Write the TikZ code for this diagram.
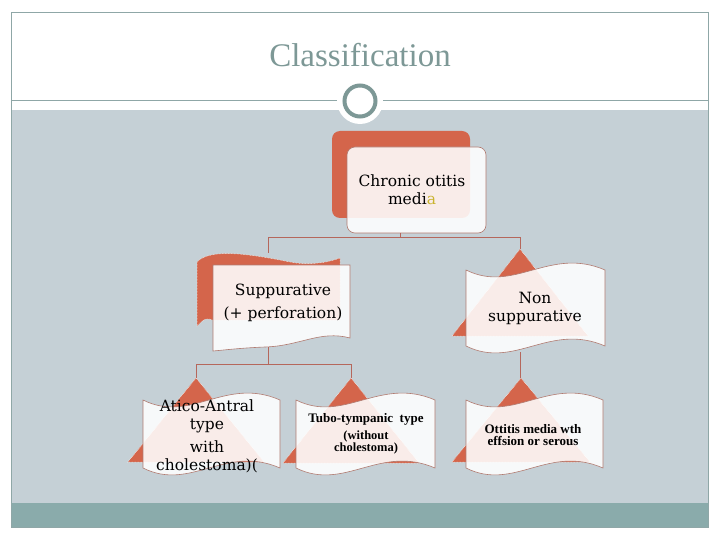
\documentclass[tikz,border=0pt]{standalone}
\usepackage{fontspec}
\setmainfont{Liberation Serif}
\newfontfamily\dvs{DejaVu Serif}
\definecolor{bgblue}{HTML}{C5D0D6}
\definecolor{band}{HTML}{8AABAB}
\definecolor{framec}{HTML}{8FA7A7}
\definecolor{titlec}{HTML}{7D9896}
\definecolor{orng}{HTML}{D4654B}
\definecolor{edgec}{HTML}{B07A70}
\definecolor{connc}{HTML}{B5675C}
\definecolor{yel}{HTML}{C9B32E}
\newcommand\flagshape[4]{(#1,{#2+6}) .. controls ({#1+0.35*#3},{#2+30}) and ({#1+0.6*#3},{#2-18}) .. ({#1+#3},{#2+6}) -- ({#1+#3},{#2+#4-6}) .. controls ({#1+0.6*#3},{#2+#4-30}) and ({#1+0.35*#3},{#2+#4+18}) .. (#1,{#2+#4-6}) -- cycle}
\begin{document}
\begin{tikzpicture}[x=1pt,y=-1pt,
  frontbox/.style={fill=white,fill opacity=0.88,draw=edgec,draw opacity=1,line width=0.6pt},
  backshape/.style={fill=orng,draw=white,line width=0.5pt,densely dotted},
  conn/.style={draw=connc,line width=0.8pt},
  bigtxt/.style={font=\dvs\fontsize{15.5}{18}\selectfont,align=center,text=black},
  smalltxt/.style={font=\bfseries\fontsize{13}{12.5}\selectfont,align=center,text=black}]
\useasboundingbox (0,0) rectangle (720,540);
\fill[white] (0,0) rectangle (720,540);
\fill[bgblue] (12,110) rectangle (708,503);
\fill[band] (12,503) rectangle (708,527);
\draw[framec,line width=0.8pt] (11.5,12.5) rectangle (708,527);
\draw[framec,line width=1pt] (11,101) -- (708,101);
\fill[white] (360,101) circle (23pt);
\draw[titlec,line width=4pt] (360,101) circle (15.5pt);
\node[font=\fontsize{33}{36}\selectfont,text=titlec] (title) at (360,55) {Classification};

% Chronic otitis media
\fill[orng,rounded corners=8pt] (332,131) rectangle (470,218);
\draw[frontbox,rounded corners=8pt] (347,147) rectangle (486,233);
\node[bigtxt] (com) at (412,190) {Chronic otitis\\medi\textcolor{yel}{a}};

% Suppurative
\path[backshape] (197,262) .. controls (210,248) and (250,254) .. (290,262) .. controls (310,266) and (330,262) .. (340,258) -- (340,320) -- (213,320) .. controls (205,318) .. (197,326) -- cycle;
\path[frontbox] (213,265) -- (350,265) -- (350,338) .. controls (320,330) and (300,346) .. (265,347) .. controls (240,348) and (225,350) .. (213,351) -- cycle;
\node[bigtxt,text depth=0pt] (sup) at (283,301) {Suppurative\\[5pt](+ perforation)};

% Non suppurative
\path[backshape] (520,249) -- (452,336) -- (588,336) -- cycle;
\path[frontbox] \flagshape{466}{264}{139}{88};
\node[bigtxt] (nsup) at (535,308) {Non\\suppurative};

% Atico-Antral
\path[backshape] (196,378) -- (128,462) -- (264,462) -- cycle;
\path[frontbox] \flagshape{143}{394}{137}{80};
\node[bigtxt] (ati) at (207,436) {Atico-Antral\\type\\[5pt]with\\cholestoma)(};

% Tubo-tympanic
\path[backshape] (351,378) -- (283,463) -- (419,463) -- cycle;
\path[frontbox] \flagshape{296}{394}{139}{80};
\node[smalltxt] (tub) at (366,434) {Tubo-tympanic\ \ type\\[4pt]\fontsize{12.5}{11}\selectfont(without\\\fontsize{12.5}{11}\selectfont cholestoma)};

% Ottitis media with effusion
\path[backshape] (521,378) -- (452,462) -- (590,462) -- cycle;
\path[frontbox] \flagshape{466}{394}{137}{80};
\node[smalltxt] (ott) at (533,435) {Ottitis media wth\\effsion or serous};

% connectors
\coordinate (cmb) at (400,233);
\coordinate (jt) at (400,237);
\coordinate (supt) at (268,253);
\coordinate (nsupt) at (520,249);
\coordinate (supb) at (268,347);
\coordinate (js) at (268,364);
\coordinate (atit) at (196,378);
\coordinate (tubt) at (351,378);
\coordinate (nsupb) at (520,352);
\coordinate (ottt) at (520,378);
\draw[conn] (cmb) -- (jt) -| (supt);
\draw[conn] (jt) -| (nsupt);
\draw[conn] (supb) -- (js) -| (atit);
\draw[conn] (js) -| (tubt);
\draw[conn] (nsupb) -- (ottt);
\end{tikzpicture}
\end{document}
